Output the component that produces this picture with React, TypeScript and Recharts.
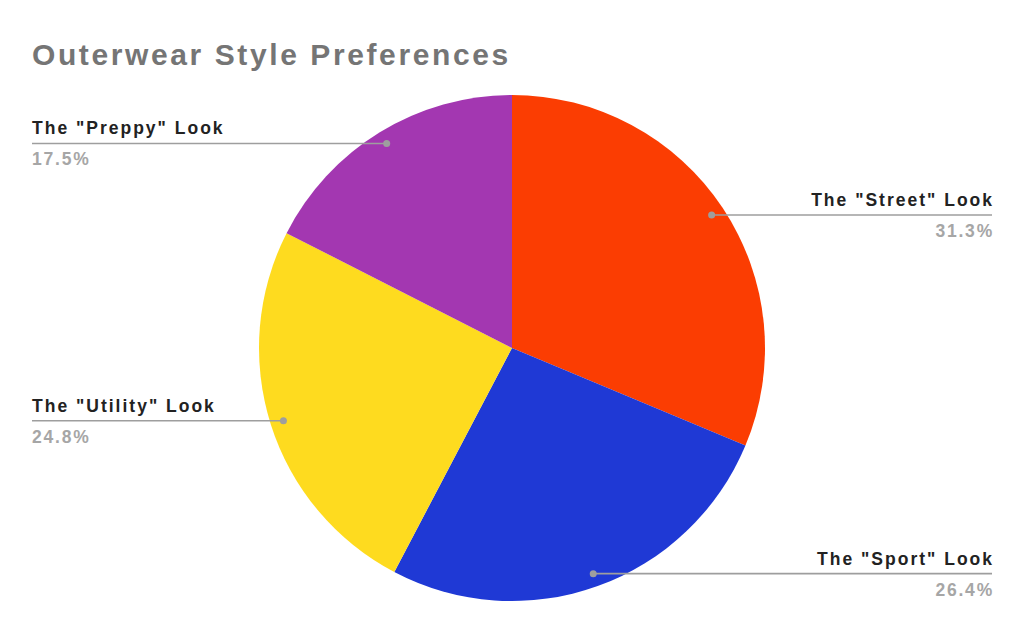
import React from "react";
import { PieChart, Pie, Cell } from "recharts";

const categories = [
  'The "Street" Look',
  'The "Sport" Look',
  'The "Utility" Look',
  'The "Preppy" Look',
];
const shares = [31.3, 26.4, 24.8, 17.5];
const colors = ["#fb3d02", "#1f39d5", "#fedb1f", "#a337b1"];

const data = categories.map((name, i) => ({ name, value: shares[i] }));

const RADIAN = Math.PI / 180;
const FONT = "'Liberation Sans', Arial, sans-serif";

const renderLabel = (props: any) => {
  const { cx, cy, midAngle, outerRadius, percent, name } = props;
  const r = outerRadius * 0.948;
  const x = cx + r * Math.cos(-midAngle * RADIAN);
  const y = cy + r * Math.sin(-midAngle * RADIAN);
  const right = x > cx;
  const endX = right ? 992 : 32;
  const textX = right ? endX + 2 : endX;
  return (
    <g>
      <line x1={x} y1={y} x2={endX} y2={y} stroke="#9e9e9e" strokeWidth={1.6} />
      <circle cx={x} cy={y} r={3.5} fill="#9e9e9e" />
      <text
        x={textX}
        y={y - 9}
        textAnchor={right ? "end" : "start"}
        fontFamily={FONT}
        fontWeight="bold"
        fontSize={17.5}
        letterSpacing={2}
        fill="#222222"
      >
        {name}
      </text>
      <text
        x={textX}
        y={y + 22}
        textAnchor={right ? "end" : "start"}
        fontFamily={FONT}
        fontWeight="bold"
        fontSize={17.5}
        letterSpacing={1.8}
        fill="#a6a6a6"
      >
        {(percent * 100).toFixed(1) + "%"}
      </text>
    </g>
  );
};

export default function App() {
  return (
    <div style={{ position: "absolute", left: 0, top: 0, width: 1024, height: 632, background: "#fff" }}>
      <div
        style={{
          position: "absolute",
          left: 32,
          top: 37,
          fontFamily: FONT,
          fontWeight: "bold",
          fontSize: 30,
          letterSpacing: 2.6,
          color: "#757575",
          lineHeight: "36px",
          whiteSpace: "nowrap",
        }}
      >
        Outerwear Style Preferences
      </div>
      <PieChart width={1024} height={632} margin={{ top: 0, right: 0, bottom: 0, left: 0 }}>
        <Pie
          data={data}
          dataKey="value"
          nameKey="name"
          cx={512}
          cy={348}
          outerRadius={253}
          startAngle={90}
          endAngle={-270}
          stroke="none"
          label={renderLabel}
          labelLine={false}
          isAnimationActive={false}
        >
          {data.map((d, i) => (
            <Cell key={d.name} fill={colors[i]} />
          ))}
        </Pie>
      </PieChart>
    </div>
  );
}
